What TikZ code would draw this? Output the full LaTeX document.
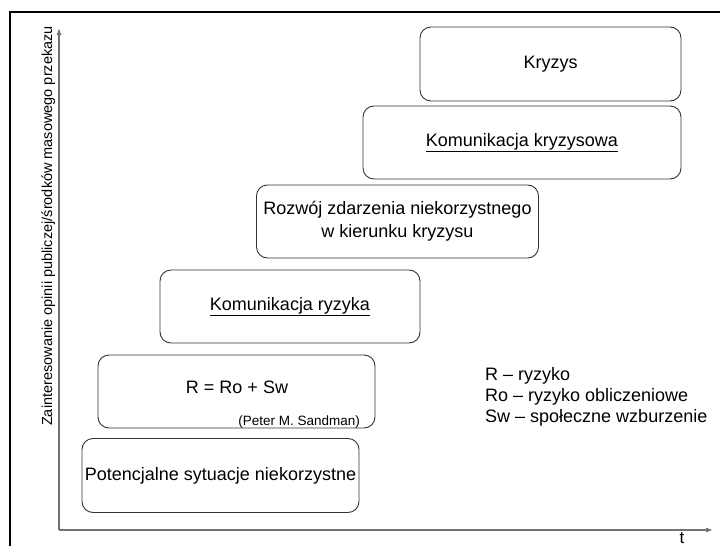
\documentclass[tikz,border=0pt]{standalone}
\usepackage{fontspec}
\setmainfont{Liberation Sans}
\usetikzlibrary{arrows.meta}
\begin{document}
\begin{tikzpicture}[x=1pt,y=-1pt,
  stage/.style={draw=black!80, line width=0.9pt, rounded corners=11pt, inner sep=0pt, align=center, font=\fontsize{18}{23}\selectfont},
  axis/.style={draw=black!55, line width=1.1pt, -{Latex[length=7pt,width=5pt]}},
  txt/.style={inner sep=0pt, font=\fontsize{18}{21}\selectfont}]
\useasboundingbox (0,0) rectangle (720,546);
\fill[white] (0,0) rectangle (720,546);
\draw[line width=2pt] (10,546) -- (10,12) -- (720,12);
\coordinate (o) at (59,530);
\coordinate (ytop) at (59,28);
\coordinate (xend) at (713,530);
\draw[axis] (o) -- (ytop);
\draw[axis] (o) -- (xend);
\node[txt, rotate=90, anchor=base, font=\fontsize{14.5}{17}\selectfont] (ylab) at (52,226) {Zainteresowanie opinii publiczej/środków masowego przekazu};
\node[txt, font=\fontsize{17}{19}\selectfont, anchor=base] (tlab) at (682,543) {t};
\node[stage, minimum width=277pt, minimum height=74pt] (b1) at (220.5,475.5) {Potencjalne sytuacje niekorzystne};
\node[stage, minimum width=277pt, minimum height=73pt] (b2) at (236.5,391.5) {};
\node[txt] (b2t) at (237,387) {R = Ro + Sw};
\node[txt, font=\fontsize{13.5}{15}\selectfont, anchor=south east] (sand) at (360,428) {(Peter M. Sandman)};
\node[stage, minimum width=260pt, minimum height=73pt] (b3) at (290,306.5) {\underline{Komunikacja ryzyka}};
\node[stage, minimum width=282pt, minimum height=73pt] (b4) at (397.5,221.5) {Rozwój zdarzenia niekorzystnego\\w kierunku kryzysu};
\node[stage, minimum width=318pt, minimum height=73pt] (b5) at (522,142.5) {\underline{Komunikacja kryzysowa}};
\node[stage, minimum width=261pt, minimum height=74pt] (b6) at (550.5,64) {Kryzys};
\node[txt, anchor=north west, align=left] (leg) at (485,367) {R – ryzyko\\Ro – ryzyko obliczeniowe\\Sw – społeczne wzburzenie};
\end{tikzpicture}
\end{document}
